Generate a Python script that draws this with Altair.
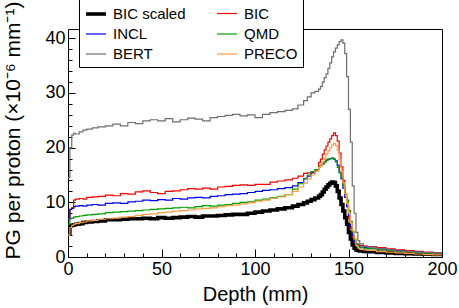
import altair as alt
import pandas as pd

# bin low edges (mm); last edge closes the histogram
depth = [0, 1, 2, 3, 4, 6, 8, 10, 13, 16,
         20, 24, 28, 32, 36, 40, 44, 48, 52, 56, 60, 64, 68, 72, 76, 80, 84, 88, 92, 96,
         100, 104, 108, 112, 116, 120, 123, 126, 128, 130, 132, 134,
         135, 136, 137, 138, 139, 140, 141, 142, 143, 144, 145, 146, 147, 148, 149, 150,
         151, 152, 153, 154, 155, 156, 158, 160, 165, 170, 175, 180, 185, 190, 195]
depth_end = 200

bic_scaled = [4.2, 5.7, 5.8, 5.9, 6.0, 6.1, 6.3, 6.4, 6.5, 6.6,
              6.8, 6.8, 6.9, 7.0, 7.0, 7.1, 7.0, 7.2, 7.1, 7.2, 7.3, 7.4, 7.3, 7.5, 7.5, 7.6, 7.7, 7.8, 7.8, 8.0,
              8.2, 8.4, 8.6, 8.8, 9.0, 9.3, 9.6, 9.9, 10.2, 10.5, 10.8, 11.1,
              11.4, 11.9, 12.4, 12.8, 13.2, 13.5, 13.7, 13.6, 13.0, 12.0, 10.8, 9.6, 8.4, 7.2, 6.0, 4.5,
              3.3, 2.2, 1.6, 1.3, 1.2, 1.1, 1.0, 0.95, 0.85, 0.75, 0.65, 0.6, 0.55, 0.5, 0.45]
bic = [7.0, 8.7, 9.0, 10.4, 10.6, 10.7, 10.6, 10.9, 11.0, 11.1,
       11.3, 11.2, 11.6, 11.5, 11.9, 12.1, 11.8, 11.6, 12.0, 12.1, 12.3, 12.5, 12.4, 12.6, 12.4, 12.8, 12.9, 13.1, 13.2, 13.1,
       13.3, 13.3, 13.7, 13.9, 14.1, 14.4, 14.8, 15.3, 15.4, 15.5, 16.0, 17.3,
       17.9, 18.8, 19.6, 20.3, 21.0, 21.6, 22.2, 22.7, 22.2, 21.2, 19.0, 16.5, 14.0, 11.5, 9.3, 7.0,
       5.2, 3.6, 2.7, 2.4, 2.2, 2.1, 2.0, 1.9, 1.7, 1.5, 1.3, 1.15, 1.05, 0.9, 0.75]
incl = [6.9, 8.7, 8.9, 9.2, 9.3, 9.4, 9.3, 9.5, 9.6, 9.5,
        9.8, 9.9, 9.8, 10.1, 10.2, 10.4, 10.3, 10.5, 10.4, 10.7, 10.6, 10.8, 10.9, 10.8, 11.1, 11.2, 11.4, 11.5, 11.6, 11.8,
        12.0, 12.2, 12.3, 12.5, 12.7, 13.0, 13.6, 14.3, 14.8, 15.4, 15.9, 16.5,
        16.8, 17.1, 17.4, 17.7, 17.9, 18.0, 18.1, 17.9, 17.6, 16.8, 15.5, 14.3, 12.6, 10.9, 9.2, 7.5,
        5.5, 3.9, 2.8, 2.2, 2.0, 1.8, 1.7, 1.6, 1.45, 1.3, 1.15, 1.0, 0.9, 0.75, 0.65]
qmd = [6.0, 7.0, 7.1, 7.3, 7.4, 7.5, 7.6, 7.7, 7.8, 7.9,
       8.1, 8.2, 8.3, 8.4, 8.5, 8.6, 8.7, 8.8, 8.9, 9.0, 9.1, 9.0, 9.2, 9.4, 9.3, 9.5, 9.6, 9.8, 10.0, 10.1,
       10.4, 10.6, 10.8, 11.1, 11.4, 12.4, 13.4, 14.4, 15.0, 15.6, 16.0, 16.5,
       16.7, 17.0, 17.4, 17.7, 17.9, 18.0, 18.1, 17.9, 17.4, 16.4, 15.4, 14.6, 13.0, 11.6, 10.4, 8.5,
       6.5, 4.6, 3.2, 2.4, 1.9, 1.7, 1.6, 1.5, 1.35, 1.2, 1.05, 0.95, 0.8, 0.7, 0.6]
bert = [14.5, 20.0, 22.3, 22.6, 22.5, 22.9, 23.2, 23.4, 23.6, 23.8,
        24.0, 24.3, 24.0, 24.6, 24.4, 24.9, 25.1, 24.9, 25.3, 24.7, 25.1, 25.4, 25.2, 24.9, 25.5, 25.7, 25.9, 26.1, 25.8, 26.0,
        25.5, 26.1, 26.4, 26.6, 26.8, 27.1, 27.8, 28.6, 29.3, 30.0, 30.3, 30.7,
        31.2, 32.0, 32.8, 33.5, 34.5, 35.5, 36.6, 37.5, 38.2, 38.8, 39.4, 39.7, 39.1, 37.2, 33.0, 27.0,
        21.0, 13.0, 8.0, 4.5, 3.0, 2.4, 2.0, 1.8, 1.5, 1.3, 1.1, 1.0, 0.9, 0.8, 0.7]
preco = [4.0, 5.4, 5.8, 6.0, 6.1, 6.3, 6.4, 6.6, 6.7, 6.9,
         7.0, 7.1, 7.3, 7.4, 7.6, 7.8, 7.9, 8.1, 8.2, 8.4, 8.5, 8.6, 8.8, 8.9, 9.0, 9.2, 9.4, 9.5, 9.7, 9.9,
         10.2, 10.4, 10.7, 11.0, 11.4, 12.0, 12.8, 13.5, 14.3, 15.0, 15.7, 16.4,
         16.8, 17.4, 18.1, 18.8, 19.4, 20.0, 20.5, 20.8, 20.4, 19.5, 17.8, 15.6, 13.6, 11.6, 9.8, 8.0,
         6.2, 4.8, 3.3, 2.1, 1.6, 1.4, 1.3, 1.2, 1.0, 0.9, 0.75, 0.65, 0.55, 0.45, 0.4]

series_names = ["BIC scaled", "BIC", "INCL", "QMD", "BERT", "PRECO"]
series_values = [bic_scaled, bic, incl, qmd, bert, preco]
# legend filled column by column: left column first
legend_order = ["BIC scaled", "INCL", "BERT", "BIC", "QMD", "PRECO"]
legend_colors = ["#000000", "#0000ff", "#6e6e6e", "#ff0000", "#00a000", "#ff9c40"]
legend_widths = [3.6, 1.2, 1.2, 1.2, 1.2, 1.2]

x_major = [0, 50, 100, 150, 200]
x_minor = [v for v in range(0, 201, 10) if v % 50 != 0]
y_major = [0, 10, 20, 30, 40]
y_minor = [v for v in range(0, 42, 2) if v % 10 != 0]

rows = []
for name, vals in zip(series_names, series_values):
    for d, v in zip(depth, vals):
        rows.append({"depth": d, "value": v, "series": name})
    rows.append({"depth": depth_end, "value": vals[-1], "series": name})
df = pd.DataFrame(rows)

FONT = "Liberation Sans"
xscale = alt.Scale(domain=[0, 200], nice=False, zero=False)
yscale = alt.Scale(domain=[0, 41.7], nice=False, zero=False)

legend_kw = dict(title=None, orient="none", legendX=11, legendY=-32,
                 columns=2, gridAlign="each", columnPadding=28,
                 rowPadding=1, symbolType="stroke", symbolSize=400,
                 labelFont=FONT, labelFontSize=15, labelColor="black",
                 labelOffset=5, padding=5, strokeColor="black",
                 fillColor="white",
                 labelExpr="datum.label == 'PRECO' ? 'PRECO\u00a0\u00a0\u00a0\u00a0' : datum.label")

lines = alt.Chart(df).mark_line(interpolate="step-after", clip=True).encode(
    x=alt.X("depth:Q", scale=xscale,
            axis=alt.Axis(orient="bottom", values=x_major, title="Depth (mm)",
                          tickSize=0, domain=False, labelFontSize=18, labelFont=FONT,
                          labelColor="black", labelPadding=3, labelFlush=False,
                          titleFont=FONT, titleFontSize=20, titleFontWeight="normal",
                          titleColor="black", titlePadding=6, grid=False)),
    y=alt.Y("value:Q", scale=yscale,
            axis=alt.Axis(orient="left", values=y_major,
                          title="PG per proton (\u00d710\u207b\u2076 mm\u207b\u00b9)",
                          tickSize=0, domain=False, labelFontSize=18, labelFont=FONT,
                          labelColor="black", labelPadding=3, labelFlush=False,
                          titleFont=FONT, titleFontSize=21, titleFontWeight="normal",
                          titleColor="black", titleX=-49, titleY=101,
                          titleBaseline="alphabetic", titleAlign="center", grid=False)),
    color=alt.Color("series:N", scale=alt.Scale(domain=legend_order, range=legend_colors),
                    legend=alt.Legend(**legend_kw)),
    strokeWidth=alt.StrokeWidth("series:N",
                                scale=alt.Scale(type="ordinal", domain=legend_order,
                                                range=legend_widths),
                                legend=alt.Legend(**legend_kw)),
    detail="series:N",
)

tick_layer_data = pd.DataFrame({"depth": [0.0], "value": [0.0]})

def tick_axes(xvals, yvals, xlen, ylen):
    return alt.Chart(tick_layer_data).mark_point(opacity=0).encode(
        x=alt.X("depth:Q", scale=xscale,
                axis=alt.Axis(orient="bottom", values=xvals, title=None, labels=False,
                              domain=False, tickSize=xlen, offset=-xlen, tickColor="black",
                              tickWidth=1, grid=False)),
        y=alt.Y("value:Q", scale=yscale,
                axis=alt.Axis(orient="left", values=yvals, title=None, labels=False,
                              domain=False, tickSize=ylen, offset=-ylen, tickColor="black",
                              tickWidth=1, grid=False)),
    )

major_ticks = tick_axes(x_major, y_major, 8, 7)
minor_ticks = tick_axes(x_minor, y_minor, 4, 4)

chart = alt.layer(lines, major_ticks, minor_ticks).resolve_axis(
    x="independent", y="independent"
).properties(
    width=374, height=228,
    autosize=alt.AutoSizeParams(type="none"),
    padding={"left": 68, "top": 29, "right": 17, "bottom": 51},
    background="white",
).configure_view(stroke="black", strokeWidth=1)

chart.save("out.html", embed_options={"renderer": "svg", "actions": False})
